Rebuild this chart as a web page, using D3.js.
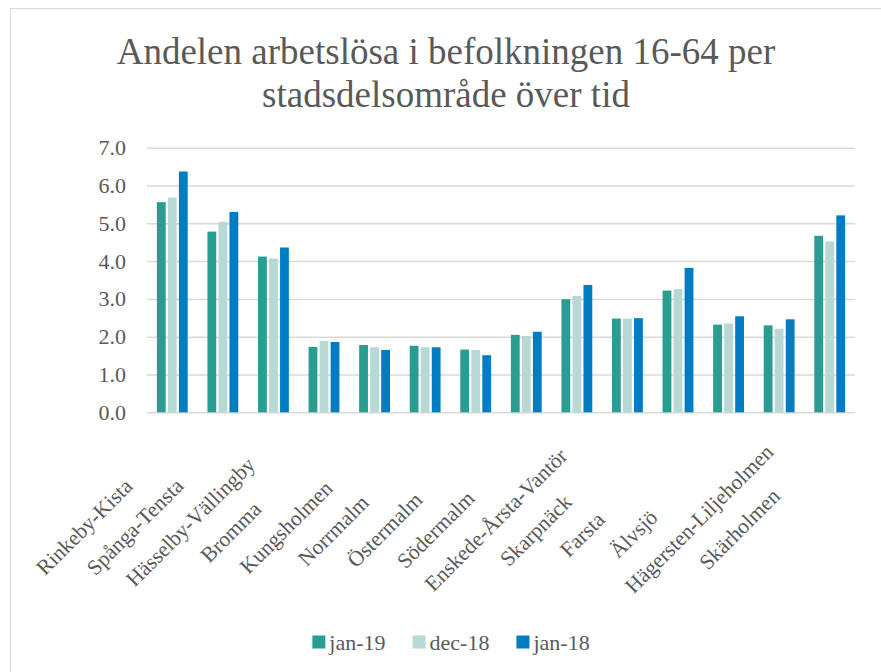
<!DOCTYPE html>
<html>
<head>
<meta charset="utf-8">
<script src="https://cdn.jsdelivr.net/npm/d3@7"></script>
<style>
  body { margin: 0; background: #fff; }
  svg text { font-family: "Liberation Serif", "DejaVu Serif", serif !important; fill: #595959; }
</style>
</head>
<body>
<div id="wrapper"></div>
<script>
// data
const categories = ["Rinkeby-Kista", "Spånga-Tensta", "Hässelby-Vällingby", "Bromma", "Kungsholmen",
  "Norrmalm", "Östermalm", "Södermalm", "Enskede-Årsta-Vantör", "Skarpnäck", "Farsta", "Älvsjö",
  "Hägersten-Liljeholmen", "Skärholmen"];
const seriesNames = ["jan-19", "dec-18", "jan-18"];
const jan19 = [5.56, 4.78, 4.12, 1.73, 1.78, 1.76, 1.66, 2.05, 2.99, 2.48, 3.22, 2.32, 2.30, 4.67];
const dec18 = [5.68, 5.04, 4.07, 1.89, 1.72, 1.72, 1.65, 2.02, 3.08, 2.48, 3.26, 2.35, 2.21, 4.52];
const jan18 = [6.37, 5.30, 4.36, 1.86, 1.65, 1.72, 1.51, 2.13, 3.37, 2.49, 3.82, 2.54, 2.46, 5.21];
const yTicks = [0, 1, 2, 3, 4, 5, 6, 7];
const colors = ["#299D91", "#B7D8D5", "#007CC3"];

const seriesValues = [jan19, dec18, jan18];
const table = categories.map((c, i) => ({
  cat: c,
  values: seriesNames.map((s, j) => ({series: s, value: seriesValues[j][i]}))
}));

const dimensions = {
  width: 881,
  height: 672,
  margin: {top: 147.7, left: 147, bottom: 259.7, right: 26}
};
dimensions.boundedWidth = dimensions.width - dimensions.margin.left - dimensions.margin.right;
dimensions.boundedHeight = dimensions.height - dimensions.margin.top - dimensions.margin.bottom;

const wrapper = d3.select("#wrapper").append("svg")
  .attr("width", dimensions.width)
  .attr("height", dimensions.height)
  .attr("font-family", "Liberation Serif");

// outer chart border (only top/left visible in the crop)
wrapper.append("rect")
  .attr("x", 10.5).attr("y", 8.5)
  .attr("width", 900).attr("height", 700)
  .attr("fill", "none")
  .attr("stroke", "#D9D9D9")
  .attr("stroke-width", 1);

// title
const title = wrapper.append("text")
  .attr("text-anchor", "middle")
  .style("font-size", "37px");
title.append("tspan").attr("x", 446).attr("y", 64).text("Andelen arbetslösa i befolkningen 16-64 per");
title.append("tspan").attr("x", 446).attr("y", 107).text("stadsdelsområde över tid");

const container = wrapper.append("g")
  .attr("transform", `translate(${dimensions.margin.left}, ${dimensions.margin.top})`);

const x0 = d3.scaleBand()
  .domain(categories)
  .range([0, dimensions.boundedWidth])
  .paddingInner(0.39)
  .paddingOuter(0.195);
const x1 = d3.scaleBand()
  .domain(seriesNames)
  .range([0, x0.bandwidth()])
  .paddingInner(0.2);
const yScale = d3.scaleLinear()
  .domain([0, 7])
  .range([dimensions.boundedHeight, 0]);
const color = d3.scaleOrdinal().domain(seriesNames).range(colors);

// gridlines
const yAxisGen = d3.axisLeft(yScale)
  .tickValues(yTicks)
  .tickSize(-dimensions.boundedWidth)
  .tickPadding(21)
  .tickFormat(d3.format(".1f"));
const axisY = container.append("g").call(yAxisGen).attr("font-family", null);
axisY.select(".domain").remove();
axisY.selectAll(".tick line").attr("stroke", "#D9D9D9").attr("stroke-width", 1.5);
axisY.selectAll(".tick text")
  .style("font-size", "22px")
  .attr("fill", "#595959");

// bars
const groups = container.selectAll(".group")
  .data(table)
  .enter()
  .append("g")
  .attr("class", "group")
  .attr("transform", d => `translate(${x0(d.cat)}, 0)`);
groups.selectAll("rect")
  .data(d => d.values)
  .enter()
  .append("rect")
  .attr("x", d => x1(d.series))
  .attr("y", d => yScale(d.value))
  .attr("width", x1.bandwidth())
  .attr("height", d => yScale(0) - yScale(d.value))
  .attr("fill", d => color(d.series));

// category labels, rotated -45
const labels = container.selectAll(".cat-label")
  .data(categories)
  .enter()
  .append("text")
  .attr("class", "cat-label")
  .style("font-size", "21.5px")
  .attr("dy", "0.32em")
  .text(d => d);
labels.each(function (d) {
  const len = this.getComputedTextLength();
  const cx = x0(d) + x0.bandwidth() / 2 - 101;
  const cy = dimensions.boundedHeight + 128;
  d3.select(this)
    .attr("x", -0.35 * len)
    .attr("transform", `translate(${cx}, ${cy}) rotate(-45)`);
});

// legend
const legend = wrapper.append("g");
let lx = 0;
seriesNames.forEach((s, i) => {
  const item = legend.append("g").attr("transform", `translate(${lx}, 0)`);
  item.append("rect")
    .attr("x", 0).attr("y", -6.5)
    .attr("width", 13).attr("height", 13)
    .attr("fill", color(s));
  const t = item.append("text")
    .attr("x", 17).attr("y", 0).attr("dy", "0.35em")
    .style("font-size", "22px")
    .text(s);
  lx += 17 + t.node().getComputedTextLength() + 27;
});
const legendWidth = lx - 27;
legend.attr("transform", `translate(${451 - legendWidth / 2}, 642)`);
</script>
</body>
</html>
